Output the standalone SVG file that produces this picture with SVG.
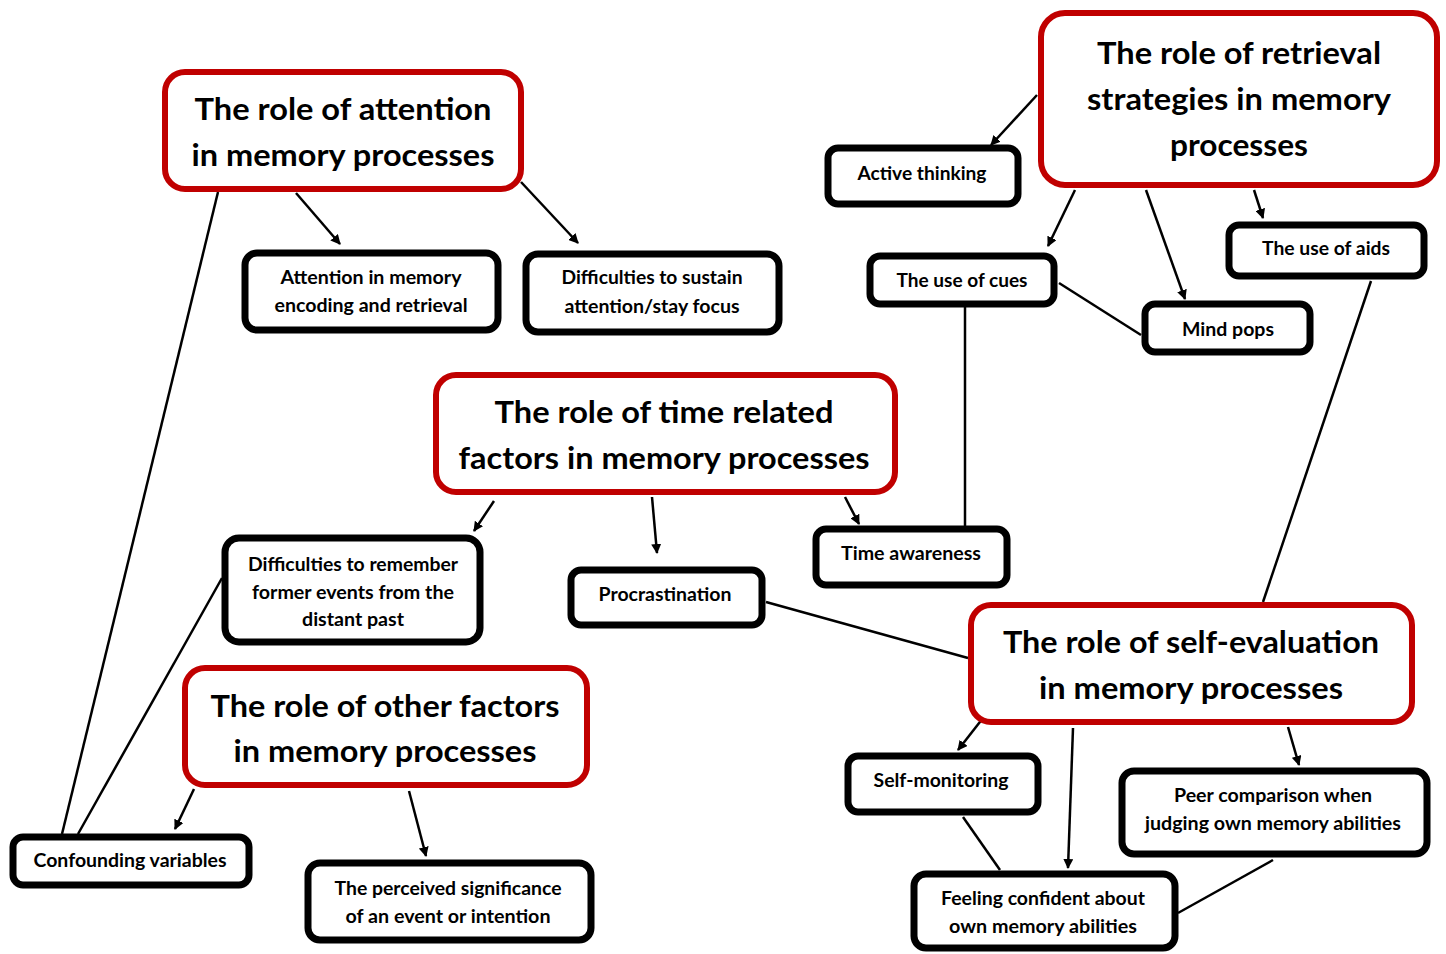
<svg xmlns="http://www.w3.org/2000/svg" width="1446" height="954" viewBox="0 0 1446 954">
<style>
.red{fill:#fff;stroke:#C00000;stroke-width:6}
.blk{fill:#fff;stroke:#000;stroke-width:7}
.t{font-family:Lato,"Open Sans","Liberation Sans",sans-serif;font-weight:700;font-size:31px;fill:#000;text-anchor:middle}
.s{font-family:Lato,"Open Sans","Liberation Sans",sans-serif;font-weight:700;font-size:18px;fill:#000;text-anchor:middle}
.c line{stroke:#000;stroke-width:2.5}
.a{marker-end:url(#ah)}
</style>
<defs>
<marker id="ah" viewBox="0 0 10 10" refX="9" refY="5" markerWidth="4" markerHeight="4" orient="auto" markerUnits="strokeWidth">
<path d="M0,0 L10,5 L0,10 z" fill="#000"/>
</marker>
</defs>
<rect width="1446" height="954" fill="#fff"/>
<g class="c" id="connectors">
<line class="a" x1="296" y1="193" x2="340" y2="244"/>
<line class="a" x1="521" y1="182" x2="578" y2="243"/>
<line x1="218" y1="192" x2="62" y2="834"/>
<line x1="222" y1="578" x2="78" y2="834"/>
<line class="a" x1="1037" y1="95" x2="991" y2="145"/>
<line class="a" x1="1075" y1="190" x2="1048" y2="246"/>
<line class="a" x1="1146" y1="190" x2="1185" y2="299"/>
<line class="a" x1="1254" y1="190" x2="1263" y2="218"/>
<line x1="1059" y1="283" x2="1141" y2="335"/>
<line x1="965" y1="307" x2="965" y2="526"/>
<line x1="1371" y1="281" x2="1263" y2="602"/>
<line class="a" x1="494" y1="501" x2="474" y2="531"/>
<line class="a" x1="652" y1="497" x2="657" y2="553"/>
<line class="a" x1="845" y1="497" x2="859" y2="524"/>
<line x1="766" y1="602" x2="968" y2="658"/>
<line class="a" x1="194" y1="789" x2="175" y2="829"/>
<line class="a" x1="409" y1="791" x2="426" y2="856"/>
<line class="a" x1="983" y1="718" x2="958" y2="750"/>
<line class="a" x1="1073" y1="728" x2="1068" y2="868"/>
<line class="a" x1="1288" y1="727" x2="1299" y2="765"/>
<line x1="963" y1="817" x2="1000" y2="870"/>
<line x1="1273" y1="860" x2="1178" y2="913"/>
</g>
<g id="n-attention">
<rect class="red" x="165" y="72" width="356" height="117" rx="20"/>
<text class="t" x="343" y="120" textLength="297" lengthAdjust="spacingAndGlyphs">The role of attention</text>
<text class="t" x="343" y="166" textLength="303" lengthAdjust="spacingAndGlyphs">in memory processes</text>
</g>
<g id="n-retrieval">
<rect class="red" x="1041" y="13" width="396" height="172" rx="24"/>
<text class="t" x="1239" y="64" textLength="284" lengthAdjust="spacingAndGlyphs">The role of retrieval</text>
<text class="t" x="1239" y="110" textLength="304" lengthAdjust="spacingAndGlyphs">strategies in memory</text>
<text class="t" x="1239" y="156" textLength="138" lengthAdjust="spacingAndGlyphs">processes</text>
</g>
<g id="n-time">
<rect class="red" x="436" y="375" width="459" height="117" rx="20"/>
<text class="t" x="664" y="423" textLength="339" lengthAdjust="spacingAndGlyphs">The role of time related</text>
<text class="t" x="664" y="469" textLength="411" lengthAdjust="spacingAndGlyphs">factors in memory processes</text>
</g>
<g id="n-other">
<rect class="red" x="185" y="668" width="402" height="117" rx="20"/>
<text class="t" x="385" y="717" textLength="349" lengthAdjust="spacingAndGlyphs">The role of other factors</text>
<text class="t" x="385" y="762" textLength="303" lengthAdjust="spacingAndGlyphs">in memory processes</text>
</g>
<g id="n-self">
<rect class="red" x="971" y="605" width="441" height="117" rx="20"/>
<text class="t" x="1191" y="653" textLength="376" lengthAdjust="spacingAndGlyphs">The role of self-evaluation</text>
<text class="t" x="1191" y="699" textLength="304" lengthAdjust="spacingAndGlyphs">in memory processes</text>
</g>
<g id="n-att-enc">
<rect class="blk" x="245" y="253" width="253" height="77" rx="12"/>
<text class="s" x="371" y="284" textLength="181" lengthAdjust="spacingAndGlyphs">Attention in memory</text>
<text class="s" x="371" y="312" textLength="193" lengthAdjust="spacingAndGlyphs">encoding and retrieval</text>
</g>
<g id="n-sustain">
<rect class="blk" x="526" y="254" width="253" height="78" rx="12"/>
<text class="s" x="652" y="284" textLength="181" lengthAdjust="spacingAndGlyphs">Difficulties to sustain</text>
<text class="s" x="652" y="313" textLength="175" lengthAdjust="spacingAndGlyphs">attention/stay focus</text>
</g>
<g id="n-active">
<rect class="blk" x="828" y="148" width="190" height="56" rx="10"/>
<text class="s" x="922" y="180" textLength="129" lengthAdjust="spacingAndGlyphs">Active thinking</text>
</g>
<g id="n-cues">
<rect class="blk" x="870" y="256" width="184" height="48" rx="10"/>
<text class="s" x="962" y="287" textLength="131" lengthAdjust="spacingAndGlyphs">The use of cues</text>
</g>
<g id="n-aids">
<rect class="blk" x="1229" y="225" width="195" height="51" rx="10"/>
<text class="s" x="1326" y="255" textLength="128" lengthAdjust="spacingAndGlyphs">The use of aids</text>
</g>
<g id="n-mind">
<rect class="blk" x="1145" y="304" width="165" height="48" rx="10"/>
<text class="s" x="1228" y="336" textLength="92" lengthAdjust="spacingAndGlyphs">Mind pops</text>
</g>
<g id="n-remember">
<rect class="blk" x="225" y="538" width="255" height="104" rx="14"/>
<text class="s" x="353" y="571" textLength="210" lengthAdjust="spacingAndGlyphs">Difficulties to remember</text>
<text class="s" x="353" y="599" textLength="202" lengthAdjust="spacingAndGlyphs">former events from the</text>
<text class="s" x="353" y="626" textLength="102" lengthAdjust="spacingAndGlyphs">distant past</text>
</g>
<g id="n-procrast">
<rect class="blk" x="571" y="570" width="191" height="55" rx="10"/>
<text class="s" x="665" y="601" textLength="133" lengthAdjust="spacingAndGlyphs">Procrastination</text>
</g>
<g id="n-timeaw">
<rect class="blk" x="816" y="529" width="191" height="56" rx="10"/>
<text class="s" x="911" y="560" textLength="140" lengthAdjust="spacingAndGlyphs">Time awareness</text>
</g>
<g id="n-confound">
<rect class="blk" x="13" y="837" width="236" height="48" rx="10"/>
<text class="s" x="130" y="867" textLength="193" lengthAdjust="spacingAndGlyphs">Confounding variables</text>
</g>
<g id="n-perceived">
<rect class="blk" x="308" y="863" width="283" height="77" rx="12"/>
<text class="s" x="448" y="895" textLength="227" lengthAdjust="spacingAndGlyphs">The perceived significance</text>
<text class="s" x="448" y="923" textLength="205" lengthAdjust="spacingAndGlyphs">of an event or intention</text>
</g>
<g id="n-selfmon">
<rect class="blk" x="848" y="756" width="190" height="56" rx="10"/>
<text class="s" x="941" y="787" textLength="135" lengthAdjust="spacingAndGlyphs">Self-monitoring</text>
</g>
<g id="n-peer">
<rect class="blk" x="1122" y="771" width="305" height="83" rx="12"/>
<text class="s" x="1273" y="802" textLength="198" lengthAdjust="spacingAndGlyphs">Peer comparison when</text>
<text class="s" x="1273" y="830" textLength="256" lengthAdjust="spacingAndGlyphs">judging own memory abilities</text>
</g>
<g id="n-confident">
<rect class="blk" x="914" y="874" width="261" height="74" rx="12"/>
<text class="s" x="1043" y="905" textLength="204" lengthAdjust="spacingAndGlyphs">Feeling confident about</text>
<text class="s" x="1043" y="933" textLength="188" lengthAdjust="spacingAndGlyphs">own memory abilities</text>
</g>
</svg>
